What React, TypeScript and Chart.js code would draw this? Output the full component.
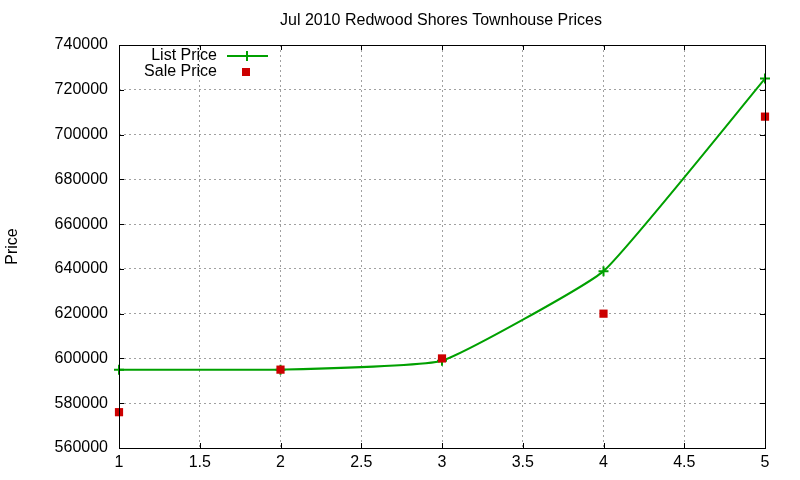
import { useEffect, useRef } from "react";
import { Chart, registerables } from "chart.js";

Chart.register(...registerables);

const xValues = [1, 2, 3, 4, 5];
const listPrice = [595000, 595000, 599000, 639000, 725000];
const salePrice = [576000, 595000, 600000, 620000, 708000];

const FONT = "'Liberation Sans', Arial, sans-serif";

// gnuplot-ish frame: full box, inward ticks on all sides, title and legend inside
const framePlugin = {
  id: "frame",
  afterDatasetsDraw(chart: any) {
    const { ctx, chartArea: a, scales } = chart;
    ctx.save();
    ctx.strokeStyle = "#000";
    ctx.lineWidth = 1;
    ctx.strokeRect(a.left + 0.5, a.top + 0.5, a.right - a.left, a.bottom - a.top);
    const tl = 5;
    ctx.beginPath();
    scales.x.ticks.forEach((t: any) => {
      const px = Math.round(scales.x.getPixelForValue(t.value)) + 0.5;
      ctx.moveTo(px, a.bottom);
      ctx.lineTo(px, a.bottom - tl);
      ctx.moveTo(px, a.top);
      ctx.lineTo(px, a.top + tl);
    });
    scales.y.ticks.forEach((t: any) => {
      const py = Math.round(scales.y.getPixelForValue(t.value)) + 0.5;
      ctx.moveTo(a.left, py);
      ctx.lineTo(a.left + tl, py);
      ctx.moveTo(a.right, py);
      ctx.lineTo(a.right - tl, py);
    });
    ctx.stroke();

    // legend
    ctx.font = `16px ${FONT}`;
    ctx.fillStyle = "#000";
    ctx.textAlign = "right";
    ctx.textBaseline = "middle";
    ctx.fillText("List Price", 217, 56);
    ctx.fillText("Sale Price", 217, 72);
    ctx.strokeStyle = "#00a000";
    ctx.lineWidth = 2;
    ctx.beginPath();
    ctx.moveTo(227, 56);
    ctx.lineTo(268, 56);
    ctx.moveTo(247, 51);
    ctx.lineTo(247, 61);
    ctx.stroke();
    ctx.fillStyle = "#cc0000";
    ctx.fillRect(242, 68, 8, 8);

    // title
    ctx.fillStyle = "#000";
    ctx.textAlign = "center";
    ctx.font = `16px ${FONT}`;
    ctx.fillText("Jul 2010 Redwood Shores Townhouse Prices", 441, 21);
    ctx.restore();
  },
};

export default function App() {
  const ref = useRef<HTMLCanvasElement>(null);

  useEffect(() => {
    if (!ref.current) return;
    const ctx = ref.current.getContext("2d");
    if (!ctx) return;

    const chart = new Chart(ctx, {
      type: "line",
      data: {
        datasets: [
          {
            label: "Sale Price",
            data: xValues.map((x, i) => ({ x, y: salePrice[i] })),
            showLine: false,
            pointStyle: "rect",
            pointRadius: 5.8,
            backgroundColor: "#cc0000",
            borderColor: "#cc0000",
            borderWidth: 0,
            clip: false,
          },
          {
            label: "List Price",
            data: xValues.map((x, i) => ({ x, y: listPrice[i] })),
            borderColor: "#00a000",
            backgroundColor: "#00a000",
            borderWidth: 2,
            tension: 0.12,
            pointStyle: "cross",
            pointRadius: 5,
            pointBorderWidth: 2,
            clip: false,
          },
        ],
      },
      options: {
        animation: false,
        responsive: false,
        layout: { padding: { top: 45, right: 35, left: 0, bottom: 0 } },
        plugins: { legend: { display: false }, tooltip: { enabled: false } },
        scales: {
          x: {
            type: "linear",
            min: 1,
            max: 5,
            ticks: {
              stepSize: 0.5,
              color: "#000",
              font: { family: FONT, size: 16 },
              padding: 5,
              callback: (v: any) => String(v),
            },
            grid: { color: "#a0a0a0", drawTicks: false },
            border: { display: false, dash: [2, 3] },
            afterFit: (s: any) => {
              s.height = 32;
            },
          },
          y: {
            min: 560000,
            max: 740000,
            ticks: {
              stepSize: 20000,
              color: "#000",
              font: { family: FONT, size: 16 },
              padding: 11,
              callback: (v: any) => String(v),
            },
            grid: { color: "#a0a0a0", drawTicks: false },
            border: { display: false, dash: [2, 3] },
            title: {
              display: true,
              text: "Price",
              color: "#000",
              font: { family: FONT, size: 16 },
              padding: { top: 3, bottom: 0 },
            },
            afterFit: (s: any) => {
              s.width = 119;
            },
          },
        },
      },
      plugins: [framePlugin],
    });

    return () => chart.destroy();
  }, []);

  return (
    <div style={{ position: "fixed", left: 0, top: 0, width: 800, height: 480, background: "#fff" }}>
      <canvas ref={ref} width={800} height={480}></canvas>
    </div>
  );
}
